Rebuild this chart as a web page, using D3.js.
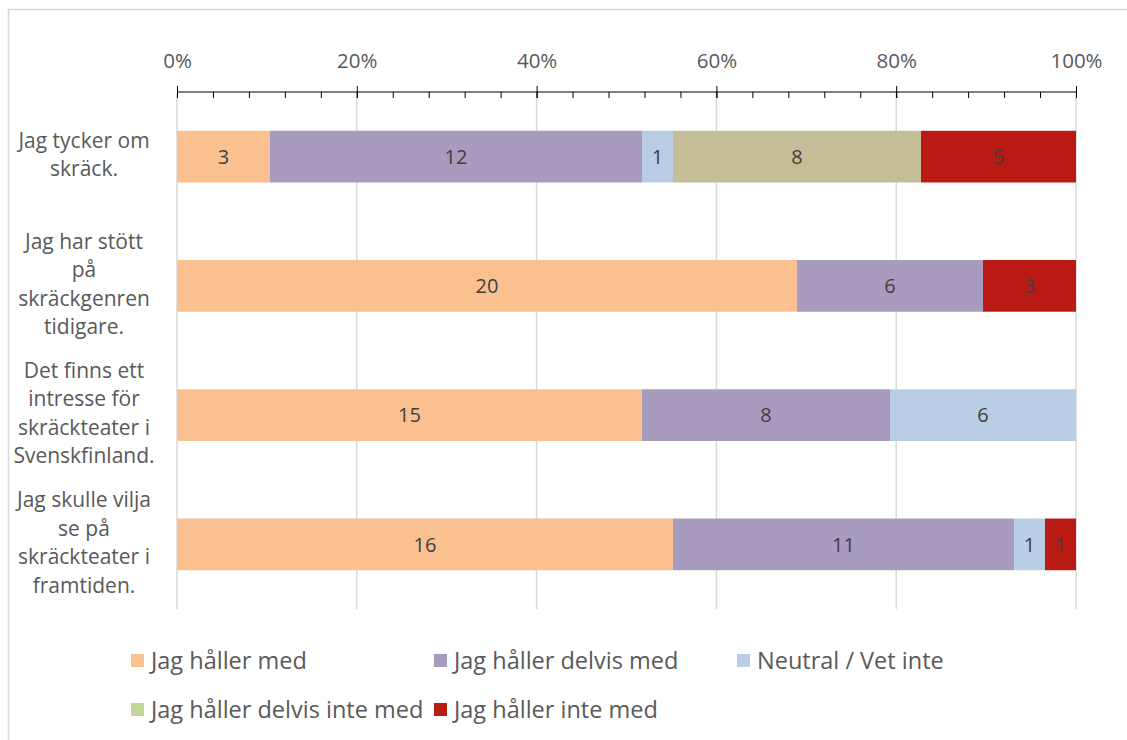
<!DOCTYPE html>
<html>
<head>
<meta charset="utf-8">
<script src="https://cdn.jsdelivr.net/npm/d3@7"></script>
<style>
  body { margin: 0; background: #fff; }
  svg text { font-family: "Open Sans", sans-serif; }
</style>
</head>
<body>
<svg id="chart" width="1127" height="740"></svg>
<script>
// data (answers out of 29)
const categories = ["Jag tycker om skräck.", "Jag har stött på skräckgenren tidigare.",
  "Det finns ett intresse för skräckteater i Svenskfinland.", "Jag skulle vilja se på skräckteater i framtiden."];
const categoryLines = [
  ["Jag tycker om", "skräck."],
  ["Jag har stött", "på", "skräckgenren", "tidigare."],
  ["Det finns ett", "intresse för", "skräckteater i", "Svenskfinland."],
  ["Jag skulle vilja", "se på", "skräckteater i", "framtiden."]
];
const seriesNames = ["Jag håller med", "Jag håller delvis med", "Neutral / Vet inte",
  "Jag håller delvis inte med", "Jag håller inte med"];
const agree          = [3, 20, 15, 16];
const partlyAgree    = [12, 6, 8, 11];
const neutral        = [1, 0, 6, 1];
const partlyDisagree = [8, 0, 0, 0];
const disagree       = [5, 3, 0, 1];
const tickValues = [0, 0.2, 0.4, 0.6, 0.8, 1];
const tickLabels = ["0%", "20%", "40%", "60%", "80%", "100%"];

const barColors = ["#FAC090", "#A99BBE", "#B9CDE5", "#C4BD97", "#BA1A14"];
// legend swatch of the 4th series is green in the original, not tan
const legendColors = ["#FAC090", "#A99BBE", "#B9CDE5", "#C3D69B", "#BA1A14"];

const svg = d3.select("#chart"),
      width = +svg.attr("width"),
      height = +svg.attr("height");

// build table for the stack
const table = categories.map(function(c, i) {
  return { cat: c, s0: agree[i], s1: partlyAgree[i], s2: neutral[i], s3: partlyDisagree[i], s4: disagree[i] };
});
const keys = ["s0", "s1", "s2", "s3", "s4"];
const stacked = d3.stack().keys(keys).offset(d3.stackOffsetExpand)(table);

// frame of the chart area
svg.append("rect")
  .attr("x", 8.5).attr("y", 9.5)
  .attr("width", width + 20).attr("height", height + 20)
  .attr("fill", "none")
  .attr("stroke", "#D9D9D9")
  .attr("stroke-width", 1.5);

const x = d3.scaleLinear().domain([0, 1]).range([177, 1076]);
const y = d3.scaleBand().domain(categories).range([92, 609]).paddingInner(0.6).paddingOuter(0.3);
const axisY = 92;

// gridlines
svg.append("g")
  .selectAll("line")
  .data(tickValues)
  .enter()
  .append("line")
    .attr("x1", d => x(d)).attr("x2", d => x(d))
    .attr("y1", axisY).attr("y2", 609)
    .attr("stroke", "#D9D9D9")
    .attr("stroke-width", 1.5);

// bars
const layer = svg.append("g")
  .selectAll("g")
  .data(stacked)
  .enter()
  .append("g")
    .attr("fill", (d, i) => barColors[i]);

layer.selectAll("rect")
  .data(d => d)
  .enter()
  .append("rect")
    .attr("x", d => x(d[0]))
    .attr("width", d => x(d[1]) - x(d[0]))
    .attr("y", d => y(d.data.cat))
    .attr("height", y.bandwidth());

// value labels
layer.selectAll("text")
  .data(function(d) { const k = d.key; return d.map(p => ({ p: p, v: p.data[k] })); })
  .enter()
  .filter(d => d.v > 0)
  .append("text")
    .attr("x", d => (x(d.p[0]) + x(d.p[1])) / 2)
    .attr("y", d => y(d.p.data.cat) + y.bandwidth() / 2)
    .attr("dy", "0.36em")
    .attr("text-anchor", "middle")
    .attr("fill", "#404040")
    .style("font-size", "20px")
    .text(d => d.v);

// top axis: major ticks cross the line, minor ticks only below
const major = svg.append("g")
  .attr("transform", "translate(0," + axisY + ")")
  .call(d3.axisTop(x).tickValues(tickValues).tickSize(6).tickFormat((d, i) => tickLabels[i]));
major.select(".domain").attr("stroke", "#000").attr("d", "M" + x(0) + ",0H" + x(1));
major.selectAll(".tick line").attr("stroke", "#000").attr("y2", 6).attr("y1", -6);
major.selectAll(".tick text")
  .attr("y", -31)
  .attr("dy", "0.36em")
  .attr("fill", "#595959")
  .style("font-size", "20.5px");

const minor = svg.append("g")
  .attr("transform", "translate(0," + axisY + ")")
  .call(d3.axisBottom(x).tickValues(d3.range(0, 1.0001, 0.04)).tickSize(6).tickFormat(""));
minor.select(".domain").remove();
minor.selectAll(".tick line").attr("stroke", "#000");

// category labels
const catG = svg.append("g")
  .selectAll("text")
  .data(categories)
  .enter()
  .append("text")
    .attr("text-anchor", "middle")
    .attr("fill", "#595959")
    .style("font-size", "21px");

catG.each(function(c, i) {
  const lines = categoryLines[i];
  const cy = y(c) + y.bandwidth() / 2 - 2;
  const lh = 28.5;
  d3.select(this).selectAll("tspan")
    .data(lines)
    .enter()
    .append("tspan")
      .attr("x", 84)
      .attr("y", (d, j) => cy + (j - (lines.length - 1) / 2) * lh)
      .attr("dy", "0.36em")
      .text(d => d);
});

// legend
const legendPos = [[131, 661], [434, 661], [737, 661], [131, 710], [434, 710]];
const legend = svg.append("g")
  .selectAll("g")
  .data(seriesNames)
  .enter()
  .append("g")
    .attr("transform", (d, i) => "translate(" + legendPos[i][0] + "," + legendPos[i][1] + ")");

legend.append("rect")
  .attr("x", 0).attr("y", -7)
  .attr("width", 13).attr("height", 13)
  .attr("fill", (d, i) => legendColors[i]);

legend.append("text")
  .attr("x", 20)
  .attr("dy", "0.36em")
  .attr("fill", "#595959")
  .style("font-size", "23.5px")
  .text(d => d);
</script>
</body>
</html>
